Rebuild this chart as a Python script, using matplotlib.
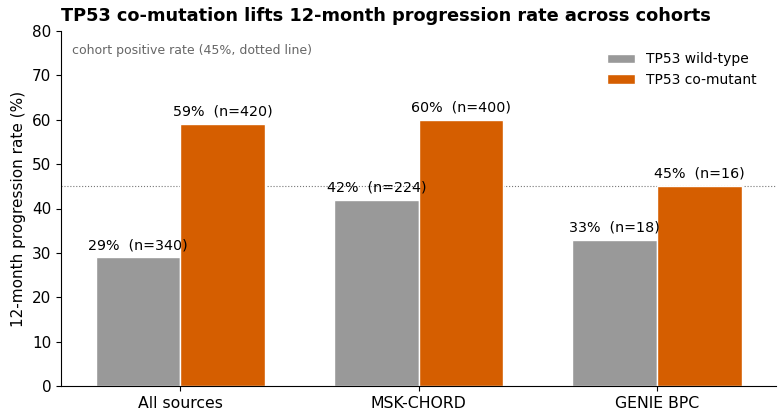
import numpy as np
import matplotlib
matplotlib.use("Agg")
import matplotlib.pyplot as plt

cohorts = ["All sources", "MSK-CHORD", "GENIE BPC"]
wt_rate = [29, 42, 33]
wt_n = [340, 224, 18]
mut_rate = [59, 60, 45]
mut_n = [420, 400, 16]
cohort_rate = 45

fig = plt.figure(figsize=(7.84, 4.17), dpi=100)
ax = fig.add_axes([0.078, 0.074, 0.912, 0.852])

x = np.arange(len(cohorts))
w = 0.355
b1 = ax.bar(x - w / 2, wt_rate, w, color="#999999", edgecolor="white", linewidth=1, label="TP53 wild-type")
b2 = ax.bar(x + w / 2, mut_rate, w, color="#D55E00", edgecolor="white", linewidth=1, label="TP53 co-mutant")

for bars, rates, ns in [(b1, wt_rate, wt_n), (b2, mut_rate, mut_n)]:
    for bar, r, n in zip(bars, rates, ns):
        ax.text(bar.get_x() + bar.get_width() / 2, r + 1.2, f"{r}%  (n={n})",
                ha="center", va="bottom", fontsize=10.3)

ax.axhline(cohort_rate, color="#777777", linestyle=":", linewidth=0.8, zorder=0)
ax.text(0.015, 0.962, "cohort positive rate (45%, dotted line)", transform=ax.transAxes,
        fontsize=9, color="#666666", va="top")

ax.set_xlim(-0.5, 2.5)
ax.set_ylim(0, 80)
ax.set_xticks(x)
ax.set_xticklabels(cohorts, fontsize=11.3)
ax.tick_params(axis="y", labelsize=11)
ax.set_ylabel("12-month progression rate (%)", fontsize=11)
ax.set_title("TP53 co-mutation lifts 12-month progression rate across cohorts",
             fontsize=12.8, fontweight="bold", loc="left", pad=7)
ax.spines["top"].set_visible(False)
ax.spines["right"].set_visible(False)
ax.legend(frameon=False, loc="upper right", fontsize=10, bbox_to_anchor=(0.99, 0.975))

fig.savefig("out.png", dpi=100)
